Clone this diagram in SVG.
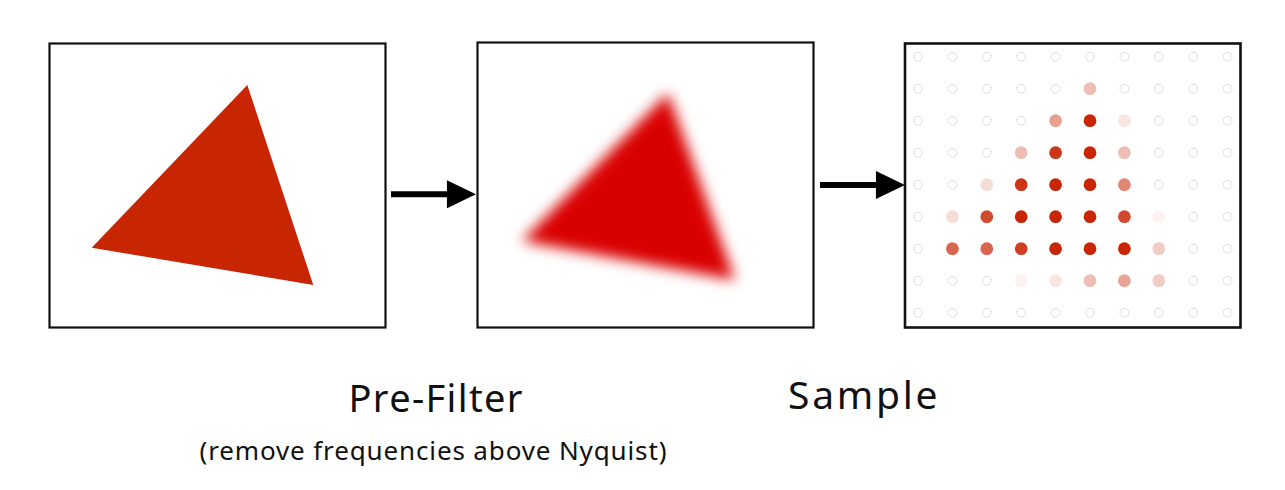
<svg xmlns="http://www.w3.org/2000/svg" width="1285" height="490" viewBox="0 0 1285 490">
<style>
.frame{fill:#ffffff;stroke:#111111;stroke-width:2.2}
.e{fill:none;stroke:#dddddd;stroke-width:1}
.d{fill:#c82503}
.conn{stroke:#000000;stroke-width:6;fill:none}
.lbl{font-family:"Noto Sans","DejaVu Sans",sans-serif;fill:#111111}
</style>
<defs>
<marker id="head" markerUnits="userSpaceOnUse" markerWidth="30" markerHeight="28" viewBox="0 0 28 27" refX="2" refY="13.5" orient="auto">
<path d="M0,0 L28,13.5 L0,27 Z" fill="#000000"/>
</marker>
<filter id="blur" filterUnits="userSpaceOnUse" x="485" y="55" width="268" height="238">
<feGaussianBlur stdDeviation="7"/>
</filter>
</defs>
<rect x="0" y="0" width="1285" height="490" fill="#ffffff"/>
<g id="panel-original">
<rect class="frame" x="49.5" y="43.5" width="336" height="284"/>
<polygon points="247.3,85 91.7,247.7 313.3,285" fill="#c82503"/>
</g>
<g id="panel-prefilter">
<rect class="frame" x="477.5" y="42.5" width="336" height="285"/>
<polygon points="668,93 522,241 735,280" fill="#d90000" filter="url(#blur)"/>
</g>
<g id="panel-sample">
<rect class="frame" x="905" y="43.5" width="335.5" height="284" style="stroke-width:2.6"/>
<g id="empty-samples">
<circle class="e" cx="918" cy="56.7" r="4.4"/><circle class="e" cx="952.4" cy="56.7" r="4.4"/><circle class="e" cx="986.8" cy="56.7" r="4.4"/><circle class="e" cx="1021.2" cy="56.7" r="4.4"/><circle class="e" cx="1055.6" cy="56.7" r="4.4"/><circle class="e" cx="1090" cy="56.7" r="4.4"/><circle class="e" cx="1124.4" cy="56.7" r="4.4"/><circle class="e" cx="1158.8" cy="56.7" r="4.4"/><circle class="e" cx="1193.2" cy="56.7" r="4.4"/><circle class="e" cx="1227.6" cy="56.7" r="4.4"/>
<circle class="e" cx="918" cy="88.7" r="4.4"/><circle class="e" cx="952.4" cy="88.7" r="4.4"/><circle class="e" cx="986.8" cy="88.7" r="4.4"/><circle class="e" cx="1021.2" cy="88.7" r="4.4"/><circle class="e" cx="1055.6" cy="88.7" r="4.4"/><circle class="e" cx="1124.4" cy="88.7" r="4.4"/><circle class="e" cx="1158.8" cy="88.7" r="4.4"/><circle class="e" cx="1193.2" cy="88.7" r="4.4"/><circle class="e" cx="1227.6" cy="88.7" r="4.4"/>
<circle class="e" cx="918" cy="120.7" r="4.4"/><circle class="e" cx="952.4" cy="120.7" r="4.4"/><circle class="e" cx="986.8" cy="120.7" r="4.4"/><circle class="e" cx="1021.2" cy="120.7" r="4.4"/><circle class="e" cx="1158.8" cy="120.7" r="4.4"/><circle class="e" cx="1193.2" cy="120.7" r="4.4"/><circle class="e" cx="1227.6" cy="120.7" r="4.4"/>
<circle class="e" cx="918" cy="152.7" r="4.4"/><circle class="e" cx="952.4" cy="152.7" r="4.4"/><circle class="e" cx="986.8" cy="152.7" r="4.4"/><circle class="e" cx="1158.8" cy="152.7" r="4.4"/><circle class="e" cx="1193.2" cy="152.7" r="4.4"/><circle class="e" cx="1227.6" cy="152.7" r="4.4"/>
<circle class="e" cx="918" cy="184.7" r="4.4"/><circle class="e" cx="952.4" cy="184.7" r="4.4"/><circle class="e" cx="1158.8" cy="184.7" r="4.4"/><circle class="e" cx="1193.2" cy="184.7" r="4.4"/><circle class="e" cx="1227.6" cy="184.7" r="4.4"/>
<circle class="e" cx="918" cy="216.7" r="4.4"/><circle class="e" cx="1193.2" cy="216.7" r="4.4"/><circle class="e" cx="1227.6" cy="216.7" r="4.4"/>
<circle class="e" cx="918" cy="248.7" r="4.4"/><circle class="e" cx="1193.2" cy="248.7" r="4.4"/><circle class="e" cx="1227.6" cy="248.7" r="4.4"/>
<circle class="e" cx="918" cy="280.7" r="4.4"/><circle class="e" cx="952.4" cy="280.7" r="4.4"/><circle class="e" cx="986.8" cy="280.7" r="4.4"/><circle class="e" cx="1193.2" cy="280.7" r="4.4"/><circle class="e" cx="1227.6" cy="280.7" r="4.4"/>
<circle class="e" cx="918" cy="312.7" r="4.4"/><circle class="e" cx="952.4" cy="312.7" r="4.4"/><circle class="e" cx="986.8" cy="312.7" r="4.4"/><circle class="e" cx="1021.2" cy="312.7" r="4.4"/><circle class="e" cx="1055.6" cy="312.7" r="4.4"/><circle class="e" cx="1090" cy="312.7" r="4.4"/><circle class="e" cx="1124.4" cy="312.7" r="4.4"/><circle class="e" cx="1158.8" cy="312.7" r="4.4"/><circle class="e" cx="1193.2" cy="312.7" r="4.4"/><circle class="e" cx="1227.6" cy="312.7" r="4.4"/>
</g>
<g id="filled-samples">
<circle class="d" cx="1090" cy="88.7" r="6.4" opacity="0.3"/>
<circle class="d" cx="1055.6" cy="120.7" r="6.4" opacity="0.44"/><circle class="d" cx="1090" cy="120.7" r="6.4"/><circle class="d" cx="1124.4" cy="120.7" r="6.4" opacity="0.12"/>
<circle class="d" cx="1021.2" cy="152.7" r="6.4" opacity="0.3"/><circle class="d" cx="1055.6" cy="152.7" r="6.4" opacity="0.92"/><circle class="d" cx="1090" cy="152.7" r="6.4"/><circle class="d" cx="1124.4" cy="152.7" r="6.4" opacity="0.3"/>
<circle class="d" cx="986.8" cy="184.7" r="6.4" opacity="0.16"/><circle class="d" cx="1021.2" cy="184.7" r="6.4" opacity="0.92"/><circle class="d" cx="1055.6" cy="184.7" r="6.4"/><circle class="d" cx="1090" cy="184.7" r="6.4"/><circle class="d" cx="1124.4" cy="184.7" r="6.4" opacity="0.55"/>
<circle class="d" cx="952.4" cy="216.7" r="6.4" opacity="0.16"/><circle class="d" cx="986.8" cy="216.7" r="6.4" opacity="0.83"/><circle class="d" cx="1021.2" cy="216.7" r="6.4"/><circle class="d" cx="1055.6" cy="216.7" r="6.4"/><circle class="d" cx="1090" cy="216.7" r="6.4"/><circle class="d" cx="1124.4" cy="216.7" r="6.4" opacity="0.83"/><circle class="d" cx="1158.8" cy="216.7" r="6.4" opacity="0.06"/>
<circle class="d" cx="952.4" cy="248.7" r="6.4" opacity="0.7"/><circle class="d" cx="986.8" cy="248.7" r="6.4" opacity="0.7"/><circle class="d" cx="1021.2" cy="248.7" r="6.4" opacity="0.88"/><circle class="d" cx="1055.6" cy="248.7" r="6.4"/><circle class="d" cx="1090" cy="248.7" r="6.4"/><circle class="d" cx="1124.4" cy="248.7" r="6.4"/><circle class="d" cx="1158.8" cy="248.7" r="6.4" opacity="0.24"/>
<circle class="d" cx="1021.2" cy="280.7" r="6.4" opacity="0.06"/><circle class="d" cx="1055.6" cy="280.7" r="6.4" opacity="0.12"/><circle class="d" cx="1090" cy="280.7" r="6.4" opacity="0.3"/><circle class="d" cx="1124.4" cy="280.7" r="6.4" opacity="0.42"/><circle class="d" cx="1158.8" cy="280.7" r="6.4" opacity="0.24"/>
</g>
</g>
<g id="connectors">
<line class="conn" x1="391" y1="194.3" x2="449" y2="194.3" marker-end="url(#head)"/>
<line class="conn" x1="820" y1="185" x2="878" y2="185" marker-end="url(#head)"/>
</g>
<g id="labels">
<text class="lbl" x="348.5" y="412" font-size="38" textLength="174" lengthAdjust="spacing">Pre-Filter</text>
<text class="lbl" x="199.5" y="460" font-size="26" textLength="467" lengthAdjust="spacing">(remove frequencies above Nyquist)</text>
<text class="lbl" x="788" y="409" font-size="39" textLength="149.5" lengthAdjust="spacing">Sample</text>
</g>
</svg>
